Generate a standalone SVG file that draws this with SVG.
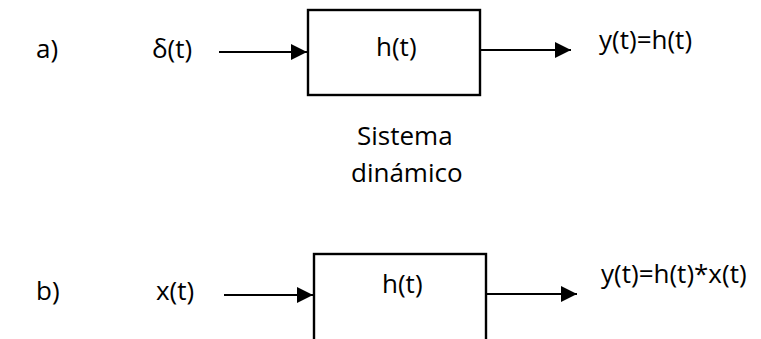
<svg xmlns="http://www.w3.org/2000/svg" width="761" height="339" viewBox="0 0 761 339">
  <style>
    .lbl { font-family: "Open Sans", "Liberation Sans", sans-serif; font-size: 26px; fill: #000; }
    .box { fill: #fff; stroke: #000; stroke-width: 2.4; }
    .wire { fill: none; stroke: #000; stroke-width: 2; }
  </style>
  <defs>
    <marker id="arrow" markerUnits="userSpaceOnUse" markerWidth="18" markerHeight="18" refX="16" refY="8" orient="auto">
      <path d="M0,0 L16,8 L0,16 Z" fill="#000"/>
    </marker>
  </defs>

  <!-- a) impulse response -->
  <text class="lbl" x="36" y="58">a)</text>
  <g id="input-a"><text class="lbl" x="152" y="58">δ(t)</text></g>
  <g id="system-a">
    <rect class="box" x="308" y="10" width="172" height="85"/>
    <text class="lbl" x="376" y="56">h(t)</text>
  </g>
  <g id="output-a"><text class="lbl" x="599" y="49">y(t)=h(t)</text></g>
  <g id="caption-a">
    <text class="lbl" x="357" y="145">Sistema</text>
    <text class="lbl" x="351" y="182">dinámico</text>
  </g>

  <!-- b) arbitrary input -->
  <text class="lbl" x="36" y="300">b)</text>
  <g id="input-b"><text class="lbl" x="156" y="300">x(t)</text></g>
  <g id="system-b">
    <rect class="box" x="314" y="254" width="172" height="90"/>
    <text class="lbl" x="382" y="293">h(t)</text>
  </g>
  <g id="output-b"><text class="lbl" x="601" y="283">y(t)=h(t)*x(t)</text></g>

  <g id="connectors">
    <line class="wire" x1="219" y1="52" x2="307" y2="52" marker-end="url(#arrow)"/>
    <line class="wire" x1="481" y1="50" x2="571" y2="50" marker-end="url(#arrow)"/>
    <line class="wire" x1="224" y1="295" x2="313" y2="295" marker-end="url(#arrow)"/>
    <line class="wire" x1="487" y1="294" x2="577" y2="294" marker-end="url(#arrow)"/>
  </g>
</svg>
